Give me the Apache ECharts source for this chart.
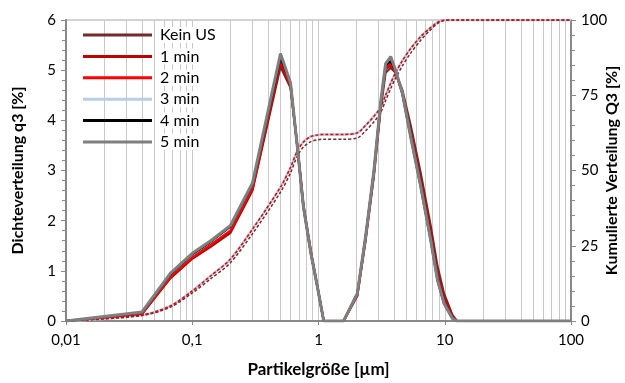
<!DOCTYPE html>
<html><head><meta charset="utf-8">
<script src="https://cdn.jsdelivr.net/npm/echarts@6/dist/echarts.min.js"></script>
<style>html,body{margin:0;padding:0;background:#fff}#c{width:625px;height:383px}</style>
</head><body><div id="c"></div>
<script>
// particle sizes [µm]
const sizes = [0.01, 0.04, 0.067, 0.1, 0.14, 0.2, 0.3, 0.5, 0.6, 0.68, 0.76, 0.87, 0.98, 1.1, 1.58, 2.03, 2.36, 2.75, 3.1, 3.4, 3.73, 4.08, 4.62, 5.37, 6.45, 7.74, 8.75, 9.87, 11.5, 12.5, 100];
// density q3 [%]
const keinUS = [0, 0.14, 0.85, 1.24, 1.48, 1.75, 2.6, 5.07, 4.65, 3.5, 2.32, 1.4, 0.7, 0, 0, 0.5, 1.6, 2.9, 4.2, 4.95, 5.05, 4.95, 4.6, 3.9, 2.95, 1.9, 1.1, 0.55, 0.12, 0, 0];
const min1   = [0, 0.15, 0.86, 1.25, 1.5, 1.78, 2.62, 5.15, 4.68, 3.47, 2.28, 1.36, 0.68, 0, 0, 0.52, 1.64, 2.95, 4.28, 5.02, 5.1, 4.95, 4.55, 3.75, 2.8, 1.75, 0.95, 0.45, 0.08, 0, 0];
const min2   = [0, 0.15, 0.88, 1.27, 1.52, 1.8, 2.65, 5.2, 4.7, 3.47, 2.27, 1.35, 0.68, 0, 0, 0.53, 1.66, 2.97, 4.3, 5.06, 5.14, 4.96, 4.53, 3.7, 2.72, 1.66, 0.86, 0.38, 0.06, 0, 0];
const min3   = [0, 0.17, 0.93, 1.33, 1.58, 1.88, 2.72, 5.28, 4.74, 3.47, 2.27, 1.35, 0.68, 0, 0, 0.55, 1.68, 3.0, 4.33, 5.1, 5.22, 4.98, 4.53, 3.67, 2.68, 1.61, 0.82, 0.35, 0.05, 0, 0];
const min4   = [0, 0.17, 0.93, 1.33, 1.58, 1.88, 2.72, 5.25, 4.74, 3.47, 2.27, 1.35, 0.68, 0, 0, 0.55, 1.68, 3.0, 4.33, 5.1, 5.18, 4.98, 4.53, 3.67, 2.68, 1.61, 0.82, 0.35, 0.05, 0, 0];
const min5   = [0, 0.18, 0.95, 1.35, 1.6, 1.9, 2.75, 5.33, 4.75, 3.47, 2.27, 1.35, 0.68, 0, 0, 0.55, 1.68, 3.0, 4.34, 5.13, 5.27, 5.0, 4.54, 3.67, 2.68, 1.61, 0.82, 0.35, 0.05, 0, 0];
// cumulative Q3 [%]
const cumUpper = [0, 2, 5, 10, 15, 20.5, 30.5, 44.5, 51, 56.5, 59.5, 61.3, 61.8, 62, 62, 62.5, 65, 68, 71, 75, 79, 82.5, 86.5, 90.5, 94.5, 97.5, 99.2, 100, 100, 100, 100];
const cumLower = [0, 1.8, 4.6, 9.3, 14, 19.3, 29, 42.8, 49.2, 54.8, 57.8, 59.6, 60.2, 60.4, 60.4, 60.8, 63.2, 66.2, 69.2, 73.2, 77.2, 80.7, 84.8, 89, 93.3, 96.8, 98.8, 99.8, 100, 100, 100];
// tick labels / grid values
const xTickLabels = {0.01: '0,01', 0.1: '0,1', 1: '1', 10: '10', 100: '100'};
const gridValues = [0.02,0.03,0.04,0.05,0.06,0.07,0.08,0.09,0.1,0.2,0.3,0.4,0.5,0.6,0.7,0.8,0.9,1,2,3,4,5,6,7,8,9,10,20,30,40,50,60,70,80,90];

const pts = arr => sizes.map((s, i) => [s, arr[i]]);
const FONT = 'Lato';
const dens = [
  ['Kein US', keinUS, '#722b2b'],
  ['1 min', min1, '#c00000'],
  ['2 min', min2, '#ff0000'],
  ['3 min', min3, '#b9cde5'],
  ['4 min', min4, '#000000'],
  ['5 min', min5, '#7f7f7f']
];
const series = [];
series.push({
  type: 'line', name: 'grid', xAxisIndex: 0, yAxisIndex: 0, data: [], silent: true, z: 0,
  markLine: { silent: true, symbol: 'none', label: {show: false}, z: 0,
    lineStyle: {color: '#c9c9c9', width: 1, type: 'solid'},
    data: gridValues.map(v => ({xAxis: v})) }
});
series.push({type:'line', name:'cum3', yAxisIndex:1, data: pts(cumUpper), symbol:'none', smooth:0.3,
  lineStyle:{color:'#b9cde5', width:2.5}, z:3});
series.push({type:'line', name:'cumK', yAxisIndex:1, data: pts(cumLower), symbol:'none', smooth:0.3,
  lineStyle:{color:'#722b2b', width:1.5, type:[3,2]}, z:3});
series.push({type:'line', name:'cum2', yAxisIndex:1, data: pts(cumUpper), symbol:'none', smooth:0.3,
  lineStyle:{color:'#e00000', width:1.5, type:[3,2]}, z:3});
dens.forEach(([n, arr, c], i) => {
  series.push({type:'line', name:n, yAxisIndex:0, data: pts(arr), symbol:'none', showSymbol:false,
    lineStyle:{color:c, width: n === '5 min' ? 3 : 2.2}, itemStyle:{color:c}, z: 4 + i});
});

const chart = echarts.init(document.getElementById('c'), null, {renderer:'canvas'});
chart.setOption({
  animation: false,
  backgroundColor: '#fff',
  grid: {left: 66, right: 54, top: 20, bottom: 62, show: true, borderColor: '#a6a6a6', borderWidth: 1,
    backgroundColor: 'transparent', containLabel: false, outerBoundsMode: 'none'},
  legend: {
    data: dens.map(d => ({name: d[0], icon: 'rect'})), orient: 'vertical', left: 83, top: 27,
    itemWidth: 69, itemHeight: 3, itemGap: 5.4, z: 10,
    textStyle: {fontFamily: FONT, fontSize: 16, lineHeight: 16, color: '#000', padding: [0,0,0,3], backgroundColor: '#fff'},
    padding: 0
  },
  xAxis: {
    type: 'log', logBase: 10, min: 0.01, max: 100,
    name: 'Partikelgröße [µm]', nameLocation: 'middle', nameGap: 40, nameMoveOverlap: false,
    nameTextStyle: {fontFamily: FONT, fontSize: 17, fontWeight: 'bold', color: '#000'},
    axisLine: {lineStyle: {color: '#888', width: 2}},
    axisTick: {show: true, length: 4, lineStyle: {color: '#888'}},
    splitLine: {show: false},
    axisLabel: {fontFamily: FONT, fontSize: 15, color: '#000', margin: 12,
      formatter: v => xTickLabels[+v] !== undefined ? xTickLabels[+v] : String(v).replace('.', ',')}
  },
  yAxis: [{
    type: 'value', min: 0, max: 6, interval: 1, position: 'left',
    name: 'Dichteverteilung q3 [%]', nameLocation: 'middle', nameGap: 40, nameMoveOverlap: false,
    nameTextStyle: {fontFamily: FONT, fontSize: 16, fontWeight: 'bold', color: '#000'},
    axisLine: {show: true, lineStyle: {color: '#888', width: 2}},
    axisTick: {show: true, length: 5, lineStyle: {color: '#888'}},
    minorTick: {show: true, splitNumber: 5, length: 4, lineStyle: {color: '#888'}},
    splitLine: {show: false},
    axisLabel: {fontFamily: FONT, fontSize: 15, color: '#000', margin: 10}
  }, {
    type: 'value', min: 0, max: 100, interval: 25, position: 'right',
    name: 'Kumulierte Verteilung Q3 [%]', nameLocation: 'middle', nameGap: 33, nameRotate: 90, nameMoveOverlap: false,
    nameTextStyle: {fontFamily: FONT, fontSize: 16, fontWeight: 'bold', color: '#000'},
    axisLine: {show: true, lineStyle: {color: '#888', width: 2}},
    axisTick: {show: true, length: 5, lineStyle: {color: '#888'}},
    minorTick: {show: true, splitNumber: 5, length: 4, lineStyle: {color: '#888'}},
    splitLine: {show: false},
    axisLabel: {fontFamily: FONT, fontSize: 15, color: '#000', margin: 10}
  }],
  series: series
});
</script></body></html>
